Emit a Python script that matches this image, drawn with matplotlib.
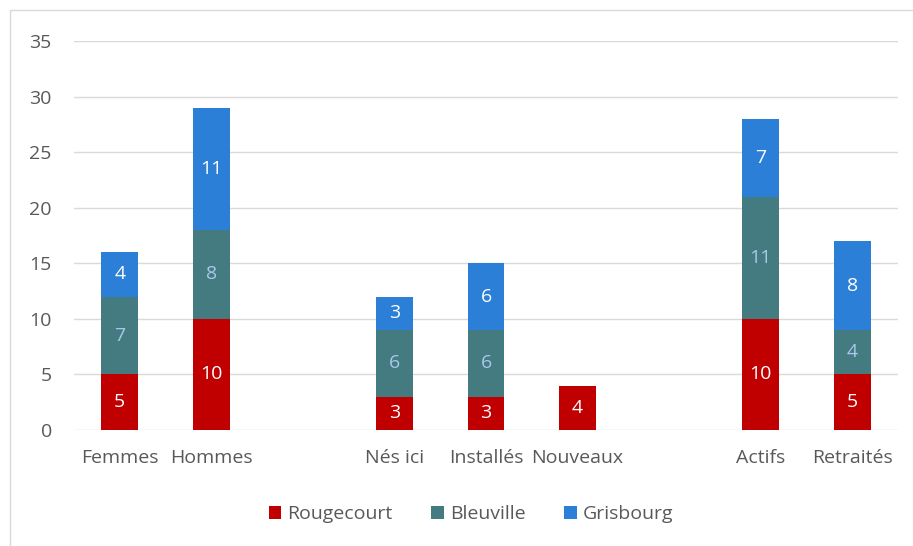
import matplotlib.pyplot as plt
import numpy as np
from matplotlib.patches import Rectangle

# Catégories (les chaînes vides servent d'espaces entre les groupes)
categories = ['Femmes', 'Hommes', '', 'Nés ici', 'Installés', 'Nouveaux', '', 'Actifs', 'Retraités']
rougecourt = [5, 10, 0, 3, 3, 4, 0, 10, 5]
bleuville = [7, 8, 0, 6, 6, 0, 0, 11, 4]
grisbourg = [4, 11, 0, 3, 6, 0, 0, 7, 8]

series = [('Rougecourt', rougecourt, '#C00000', 'white'),
          ('Bleuville', bleuville, '#437B81', '#A9C8EA'),
          ('Grisbourg', grisbourg, '#2B7FD6', 'white')]

plt.rcParams['font.family'] = ['Open Sans', 'DejaVu Sans']
text_color = '#595959'
fs = 14

fig = plt.figure(figsize=(9.13, 5.46), dpi=100)
ax = fig.add_axes([74 / 913, 1 - 430 / 546, (898 - 74) / 913, (430 - 41) / 546])

x = np.arange(len(categories))
bottom = np.zeros(len(categories))
for name, vals, color, lab_color in series:
    vals = np.array(vals)
    ax.bar(x, vals, 0.4, bottom=bottom, color=color, label=name, zorder=3)
    for xi, v, b in zip(x, vals, bottom):
        if v > 0:
            ax.text(xi, b + v / 2, str(v), ha='center', va='center',
                    color=lab_color, fontsize=fs, zorder=4)
    bottom += vals

ax.set_xlim(-0.5, len(categories) - 0.5)
ax.set_ylim(0, 35)
ax.set_yticks(range(0, 36, 5))
ax.set_xticks(x)
ax.set_xticklabels(categories)
ax.tick_params(axis='both', length=0, labelsize=fs, colors=text_color)
ax.tick_params(axis='y', pad=16)
ax.tick_params(axis='x', pad=14)
ax.grid(axis='y', color='#D9D9D9', linewidth=1, zorder=0)
for s in ax.spines.values():
    s.set_visible(False)

leg = fig.legend(loc='center', bbox_to_anchor=(471 / 913, 1 - 514 / 546), ncol=3,
                 frameon=False, fontsize=fs, handlelength=0.65, handleheight=0.65,
                 columnspacing=2.0, handletextpad=0.3)
for t in leg.get_texts():
    t.set_color(text_color)

# cadre du graphique (bords gauche et haut visibles)
fig.patches.append(Rectangle((10 / 913, -0.1), 1.2, 1.1 - 10 / 546, transform=fig.transFigure,
                             fill=False, edgecolor='#D9D9D9', linewidth=1))

fig.savefig('out.png', dpi=100)
